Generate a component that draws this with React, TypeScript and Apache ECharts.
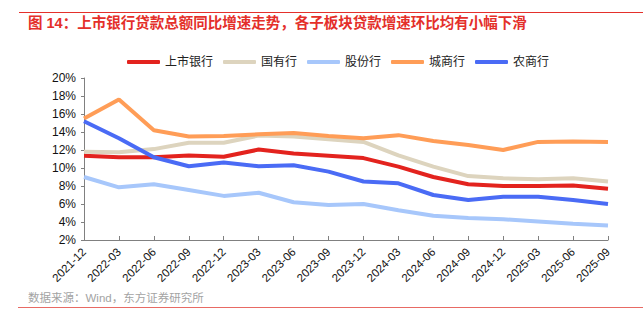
import React, { useEffect, useRef } from "react";
import * as echarts from "echarts";

const categories = [
  "2021-12", "2022-03", "2022-06", "2022-09", "2022-12", "2023-03", "2023-06", "2023-09",
  "2023-12", "2024-03", "2024-06", "2024-09", "2024-12", "2025-03", "2025-06", "2025-09",
];
const listedBanks = [11.35, 11.2, 11.2, 11.4, 11.25, 12.05, 11.6, 11.35, 11.1, 10.15, 9.0, 8.2, 8.0, 8.0, 8.05, 7.7];
const stateOwned = [11.8, 11.75, 12.1, 12.8, 12.8, 13.6, 13.5, 13.2, 12.9, 11.4, 10.15, 9.1, 8.85, 8.75, 8.85, 8.5];
const jointStock = [9.0, 7.85, 8.2, 7.55, 6.9, 7.25, 6.2, 5.9, 6.0, 5.3, 4.7, 4.45, 4.3, 4.05, 3.8, 3.6];
const cityBanks = [15.5, 17.6, 14.2, 13.5, 13.55, 13.75, 13.9, 13.55, 13.3, 13.65, 13.0, 12.55, 12.0, 12.9, 12.95, 12.9];
const ruralBanks = [15.2, 13.3, 11.2, 10.2, 10.6, 10.2, 10.3, 9.6, 8.5, 8.3, 7.0, 6.45, 6.8, 6.8, 6.45, 6.0];

const seriesNames = ["上市银行", "国有行", "股份行", "城商行", "农商行"];
const seriesColors = ["#E3231E", "#DDD4BE", "#A7C7FB", "#FF9D57", "#4A6BF5"];

const titleText = "图 14：上市银行贷款总额同比增速走势，各子板块贷款增速环比均有小幅下滑";
const sourceText = "数据来源：Wind，东方证券研究所";

const FONT = "'Liberation Sans', 'Noto Sans CJK SC', sans-serif";

export default function App() {
  const ref = useRef<HTMLDivElement>(null);
  useEffect(() => {
    if (!ref.current) return;
    const chart = echarts.init(ref.current, null, { renderer: "svg" });
    const values = [listedBanks, stateOwned, jointStock, cityBanks, ruralBanks];
    chart.setOption({
      animation: false,
      textStyle: { fontFamily: FONT },
      graphic: [
        { type: "rect", shape: { x: 19, y: 12, width: 624, height: 1 }, style: { fill: "#E4302B" } },
        {
          type: "text",
          x: 28,
          y: 23,
          style: {
            text: titleText,
            fill: "#E42F2A",
            font: `bold 14.5px ${FONT}`,
            textVerticalAlign: "middle",
            verticalAlign: "middle",
          },
        },
        {
          type: "text",
          x: 28,
          y: 298,
          style: {
            text: sourceText,
            fill: "#A3A3A3",
            font: `11.5px ${FONT}`,
            verticalAlign: "middle",
            textVerticalAlign: "middle",
          },
        },
        { type: "rect", shape: { x: 18, y: 307, width: 625, height: 1 }, style: { fill: "#E86A64" } },
      ],
      legend: {
        left: 122,
        top: 51,
        icon: "roundRect",
        itemWidth: 33,
        itemHeight: 4,
        itemGap: 10,
        textStyle: { fontSize: 12, color: "#222", fontFamily: FONT },
        data: seriesNames,
      },
      grid: { left: 84, right: 35, top: 78, bottom: 87, containLabel: false },
      xAxis: {
        type: "category",
        data: categories,
        boundaryGap: false,
        axisLine: { lineStyle: { color: "#808080", width: 1 } },
        axisTick: { show: true, inside: true, length: 4, lineStyle: { color: "#808080" } },
        axisLabel: { rotate: 45, fontSize: 11.5, color: "#111", margin: 10, interval: 0 },
      },
      yAxis: {
        type: "value",
        min: 2,
        max: 20,
        interval: 2,
        splitLine: { show: false },
        axisLine: { show: true, lineStyle: { color: "#808080", width: 1 } },
        axisTick: { show: true, length: 3, lineStyle: { color: "#808080" } },
        axisLabel: { formatter: "{value}%", fontSize: 12, color: "#111", margin: 8 },
      },
      series: seriesNames.map((name, i) => ({
        name,
        type: "line",
        data: values[i],
        symbol: "none",
        color: seriesColors[i],
        lineStyle: { width: 4, color: seriesColors[i] },
      })),
    });
    return () => chart.dispose();
  }, []);
  return (
    <div
      ref={ref}
      style={{ position: "fixed", left: 0, top: 0, width: 643, height: 327, background: "#fff" }}
    />
  );
}
